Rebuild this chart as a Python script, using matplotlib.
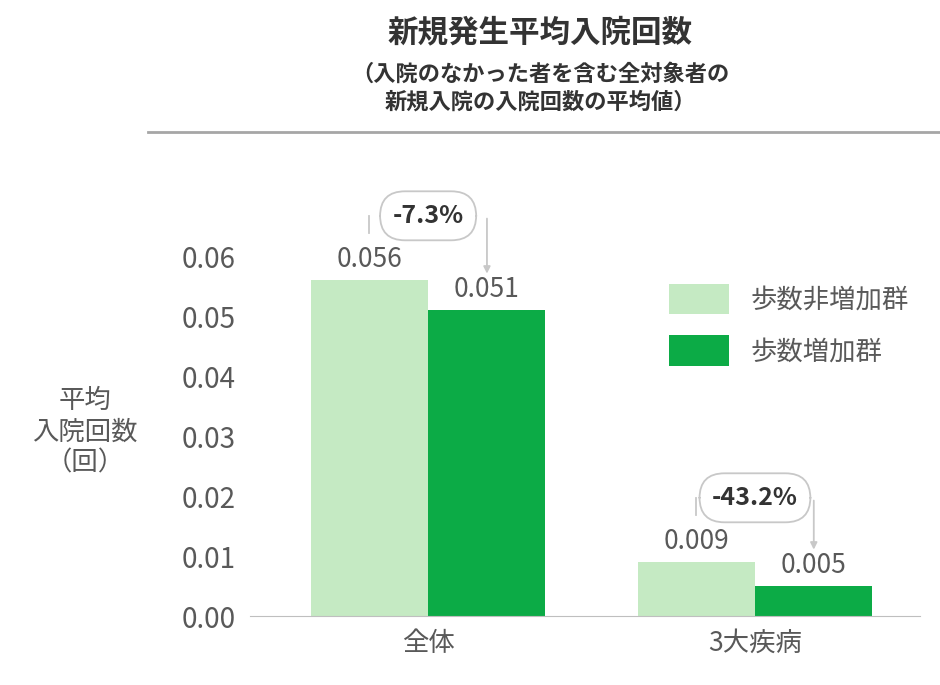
import matplotlib
matplotlib.use("Agg")
import matplotlib.pyplot as plt

plt.rcParams['font.family'] = ['Noto Sans CJK JP', 'DejaVu Sans']

categories = ["全体", "3大疾病"]
series_names = ["歩数非増加群", "歩数増加群"]
non_increase = [0.056, 0.009]
increase = [0.051, 0.005]
value_labels_a = ["0.056", "0.009"]
value_labels_b = ["0.051", "0.005"]
changes = ["-7.3%", "-43.2%"]
yticks = [0.00, 0.01, 0.02, 0.03, 0.04, 0.05, 0.06]

c_light = "#c5eac3"
c_dark = "#0cab46"
gray = "#595959"

W, H = 940, 685
fig = plt.figure(figsize=(9.4, 6.85), dpi=100)
ax = fig.add_axes([250/W, 1-616/H, 670/W, (616-200)/H])
ax.set_ylim(0, (616-200)/60*0.01)
ax.set_xlim(-0.545, 1.505)
w = 0.358
x = [0, 1]
ax.bar([i - w/2 for i in x], non_increase, w, color=c_light, label=series_names[0])
ax.bar([i + w/2 for i in x], increase, w, color=c_dark, label=series_names[1])
for i in x:
    ax.text(i - w/2, non_increase[i] + 0.0012, value_labels_a[i], ha='center', va='bottom', fontsize=19, color=gray)
    ax.text(i + w/2, increase[i] + 0.0012, value_labels_b[i], ha='center', va='bottom', fontsize=19, color=gray)
    top = max(non_increase[i], increase[i])
    yb = top + 0.0107
    ax.plot([i - 0.18, i - 0.18], [yb, top + 0.0078], color="#c8c8c8", lw=1.3, clip_on=False, zorder=1)
    ax.annotate("", xy=(i + 0.18, increase[i] + 0.0056), xytext=(i + 0.18, yb),
                arrowprops=dict(arrowstyle="-|>", color="#c8c8c8", lw=1.3), annotation_clip=False, zorder=1)
    ax.text(i, yb, changes[i], ha='center', va='center', fontsize=18, fontweight='bold', color="#333333", zorder=3,
            bbox=dict(boxstyle="round,pad=0.5,rounding_size=1.0", fc="white", ec="#c8c8c8", lw=1.3))

ax.set_yticks(yticks)
ax.set_yticklabels([f"{v:.2f}" for v in yticks], fontsize=20, color=gray)
ax.set_xticks(x)
ax.set_xticklabels(categories, fontsize=19, color=gray)
ax.tick_params(length=0, pad=10)
for s in ["top", "right", "left"]:
    ax.spines[s].set_visible(False)
ax.spines["bottom"].set_color("#bfbfbf")

ax.legend(loc="upper left", bbox_to_anchor=(395/670, 1-60/416), frameon=False, fontsize=19,
          handlelength=2.3, handleheight=1.4, labelspacing=0.8, labelcolor=gray)

fig.text(85/W, 1-432/H, "平均\n入院回数\n（回）", ha='center', va='center', fontsize=19, color=gray, linespacing=1.2)

fig.text(540/W, 1-32/H, "新規発生平均入院回数", ha='center', va='center', fontsize=22, fontweight='bold', color="#333333")
fig.text(540/W, 1-88/H, "（入院のなかった者を含む全対象者の\n新規入院の入院回数の平均値）", ha='center', va='center',
         fontsize=16, fontweight='bold', color="#333333", linespacing=1.3)
fig.add_artist(plt.Line2D([148/W, 1.0], [1-132/H, 1-132/H], color="#a6a6a6", lw=2))

fig.savefig("out.png", dpi=100)
